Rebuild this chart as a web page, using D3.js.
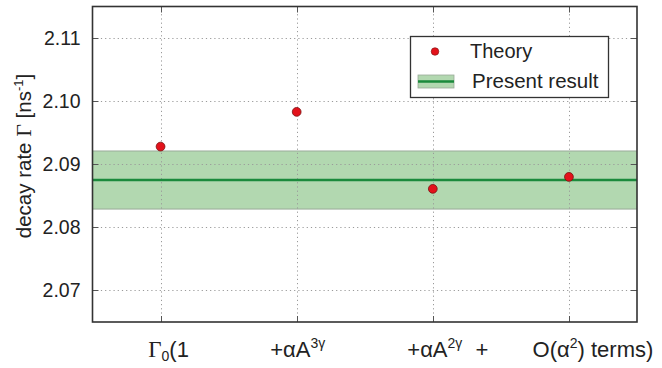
<!DOCTYPE html>
<html>
<head>
<meta charset="utf-8">
<script src="https://cdn.jsdelivr.net/npm/d3@7"></script>
<style>
  html, body { margin: 0; padding: 0; background: #fff; }
  svg { display: block; }
  text { font-family: "Liberation Sans", Arial, sans-serif; fill: #222; }
</style>
</head>
<body>
<svg id="chart" width="662" height="368"></svg>
<script>
// Decay rate: theoretical contributions vs. the present measurement
const categories = ["Γ_0(1", "+αA^{3γ}", "+αA^{2γ}", "O(α^2) terms)"];
const theoryValues = [2.0928, 2.0983, 2.0861, 2.0880];
const presentResult = [2.0875];
const presentError = [0.0046];
const yTicks = [2.07, 2.08, 2.09, 2.10, 2.11];
const yDomain = [2.065, 2.115];
const joinerLabel = ["+"];

const svg = d3.select("#chart");
const margin = { left: 92.5, right: 25, top: 6.5, bottom: 46 };
const W = 662, H = 368;
const plotW = W - margin.left - margin.right;
const plotH = H - margin.top - margin.bottom;

const x = d3.scaleLinear().domain([-0.5, categories.length - 0.5]).range([margin.left, margin.left + plotW]);
const y = d3.scaleLinear().domain(yDomain).range([margin.top + plotH, margin.top]);

const g = svg.append("g");

// Band of the present result
const band = g.append("g");
band.append("rect")
  .attr("x", x.range()[0]).attr("width", plotW)
  .attr("y", y(presentResult[0] + presentError[0]))
  .attr("height", y(presentResult[0] - presentError[0]) - y(presentResult[0] + presentError[0]))
  .attr("fill", "#b2d8b0");
[presentResult[0] + presentError[0], presentResult[0] - presentError[0]].forEach(v => {
  band.append("line")
    .attr("x1", x.range()[0]).attr("x2", x.range()[1])
    .attr("y1", y(v)).attr("y2", y(v))
    .attr("stroke", "#9aab9a").attr("stroke-width", 1);
});

// Dotted grid
const grid = g.append("g").attr("stroke", "#9a9a9a").attr("stroke-width", 1).attr("stroke-dasharray", "1.2,3");
yTicks.forEach(t => {
  grid.append("line").attr("x1", x.range()[0]).attr("x2", x.range()[1])
    .attr("y1", Math.round(y(t)) + 0.5).attr("y2", Math.round(y(t)) + 0.5);
});
categories.forEach((c, i) => {
  grid.append("line").attr("y1", y.range()[0]).attr("y2", y.range()[1])
    .attr("x1", Math.round(x(i)) + 0.5).attr("x2", Math.round(x(i)) + 0.5);
});

// Present-result central line
g.append("line")
  .attr("x1", x.range()[0]).attr("x2", x.range()[1])
  .attr("y1", y(presentResult[0])).attr("y2", y(presentResult[0]))
  .attr("stroke", "#1b8a3c").attr("stroke-width", 2.6);

// Mirrored inner ticks
const tk = g.append("g").attr("stroke", "#555").attr("stroke-width", 1);
yTicks.forEach(t => {
  const yy = Math.round(y(t)) + 0.5;
  tk.append("line").attr("x1", x.range()[0]).attr("x2", x.range()[0] + 6).attr("y1", yy).attr("y2", yy);
  tk.append("line").attr("x1", x.range()[1]).attr("x2", x.range()[1] - 6).attr("y1", yy).attr("y2", yy);
});
categories.forEach((c, i) => {
  const xx = Math.round(x(i)) + 0.5;
  tk.append("line").attr("y1", y.range()[0]).attr("y2", y.range()[0] - 6).attr("x1", xx).attr("x2", xx);
  tk.append("line").attr("y1", y.range()[1]).attr("y2", y.range()[1] + 6).attr("x1", xx).attr("x2", xx);
});

// Theory points
g.append("g").selectAll("circle").data(theoryValues).join("circle")
  .attr("cx", (d, i) => x(i)).attr("cy", d => y(d))
  .attr("r", 4.4)
  .attr("fill", "#e3121b").attr("stroke", "#7a1010").attr("stroke-width", 0.8);

// Frame
g.append("rect")
  .attr("x", x.range()[0]).attr("y", y.range()[1])
  .attr("width", plotW).attr("height", plotH)
  .attr("fill", "none").attr("stroke", "#333").attr("stroke-width", 1.6);

// Y tick labels
const yAxis = d3.axisLeft(y).tickValues(yTicks).tickFormat(d3.format(".2f")).tickSize(0).tickPadding(12);
const ya = svg.append("g").attr("transform", `translate(${x.range()[0]},0)`).call(yAxis);
ya.select(".domain").remove();
ya.selectAll("text").attr("font-size", 19.5).attr("fill", "#222")
  .attr("font-family", "'Liberation Sans', Arial, sans-serif");

// Y axis title
const yt = svg.append("text")
  .attr("transform", `translate(31,${156}) rotate(-90)`)
  .attr("text-anchor", "middle").attr("font-size", 20.5);
yt.append("tspan").text("decay rate ");
yt.append("tspan").text("Γ").attr("font-family", "'Liberation Serif', 'DejaVu Serif', serif").attr("font-size", 22);
yt.append("tspan").text(" [ns");
yt.append("tspan").text("-1").attr("font-size", 13).attr("dy", -8);
yt.append("tspan").text("]").attr("dy", 8);

// Category labels with sub/superscripts
function richLabel(sel, str) {
  const re = /(_\{[^}]*\}|_.|\^\{[^}]*\}|\^.)/g;
  const parts = str.split(re).filter(s => s.length);
  let shift = 0;
  parts.forEach(p => {
    let kind = "", t = p;
    if (p[0] === "_") { kind = "sub"; t = p.slice(1).replace(/[{}]/g, ""); }
    else if (p[0] === "^") { kind = "sup"; t = p.slice(1).replace(/[{}]/g, ""); }
    const target = kind === "sub" ? 4 : kind === "sup" ? -9 : 0;
    const ts = sel.append("tspan").attr("dy", target - shift);
    shift = target;
    if (kind) {
      ts.attr("font-size", 14).text(t);
    } else {
      // Greek capital set in a serif face
      [...t].forEach(ch => {
        const s = ts.append("tspan").text(ch);
        if (ch === "Γ") s.attr("font-family", "'Liberation Serif', 'DejaVu Serif', serif").attr("font-size", 23);
      });
    }
  });
}
const labelOffsets = [8, 1, 2, 24];
categories.forEach((c, i) => {
  const t = svg.append("text")
    .attr("x", x(i) + labelOffsets[i]).attr("y", 357)
    .attr("text-anchor", "middle").attr("font-size", 22);
  richLabel(t, c);
});
svg.append("text").attr("x", x(2.36)).attr("y", 357)
  .attr("text-anchor", "middle").attr("font-size", 22).text(joinerLabel[0]);

// Legend
const lg = svg.append("g");
lg.append("rect").attr("x", 410.5).attr("y", 36.5).attr("width", 198).attr("height", 61)
  .attr("fill", "#fff").attr("stroke", "#333").attr("stroke-width", 1.3);
lg.append("circle").attr("cx", 435).attr("cy", 51.5).attr("r", 3.8)
  .attr("fill", "#e3121b").attr("stroke", "#7a1010").attr("stroke-width", 0.6);
lg.append("text").attr("x", 470).attr("y", 58).attr("font-size", 20).text("Theory");
lg.append("rect").attr("x", 418).attr("y", 75).attr("width", 36).attr("height", 13)
  .attr("fill", "#b2d8b0").attr("stroke", "#9aab9a").attr("stroke-width", 0.8);
lg.append("line").attr("x1", 418).attr("x2", 454).attr("y1", 81.5).attr("y2", 81.5)
  .attr("stroke", "#1b8a3c").attr("stroke-width", 2.6);
lg.append("text").attr("x", 472).attr("y", 88).attr("font-size", 20.5).text("Present result");
</script>
</body>
</html>
